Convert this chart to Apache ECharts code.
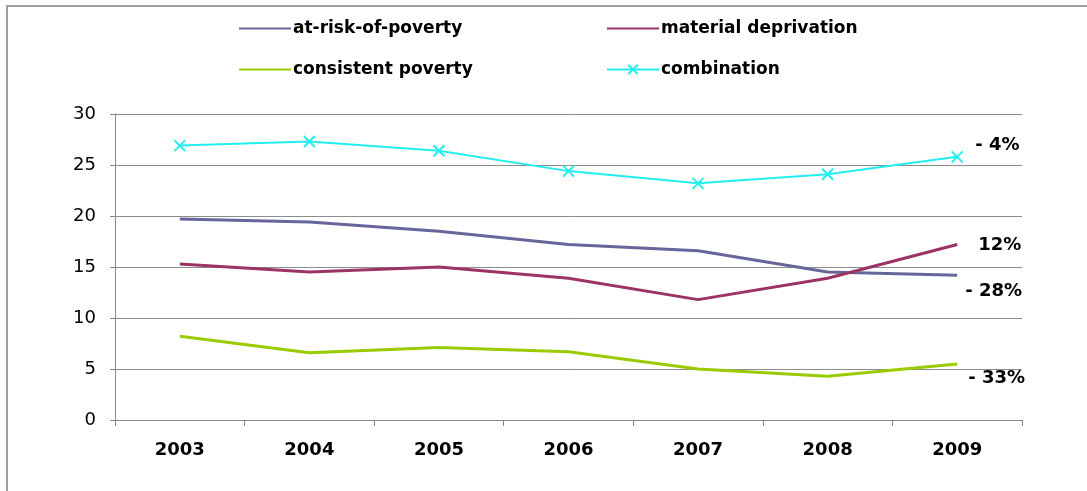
<!DOCTYPE html>
<html><head><meta charset="utf-8">
<script src="https://cdn.jsdelivr.net/npm/echarts@6/dist/echarts.min.js"></script>
<style>html,body{margin:0;padding:0;background:#fff}#c{width:1087px;height:491px}</style>
</head><body><div id="c"></div>
<script>
const years = ['2003','2004','2005','2006','2007','2008','2009'];
const atRisk = [19.7, 19.4, 18.5, 17.2, 16.6, 14.5, 14.2];
const materialDeprivation = [15.3, 14.5, 15.0, 13.9, 11.8, 13.9, 17.2];
const consistentPoverty = [8.2, 6.6, 7.1, 6.7, 5.0, 4.3, 5.5];
const combination = [26.9, 27.3, 26.4, 24.4, 23.2, 24.1, 25.8];
const changeLabels = {atRisk: '- 28%', material: '12%', consistent: '- 33%', combination: '- 4%'};
const yTicks = [0, 5, 10, 15, 20, 25, 30];

const font = '"DejaVu Sans", Arial, sans-serif';
const chart = echarts.init(document.getElementById('c'));
function endLbl(text, off) {
  return {show: true, formatter: text, offset: off, color: '#000', fontFamily: font, fontWeight: 'bold', fontSize: 18, distance: 0};
}
function legend(name, left, top, hideSym) {
  const l = {data: [name], left: left, top: top, itemWidth: 52, itemHeight: 12, itemGap: 0,
    textStyle: {fontFamily: font, fontWeight: 'bold', fontSize: 17, color: '#000', padding: [0,0,0,-3]}, padding: 0};
  if (hideSym) l.itemStyle = {opacity: 0};
  return l;
}
chart.setOption({
  animation: false,
  backgroundColor: '#fff',
  graphic: [{type: 'rect', shape: {x: 7, y: 6, width: 1100, height: 520}, style: {fill: 'none', stroke: '#a0a0a0', lineWidth: 2}, silent: true}],
  legend: [
    legend('at-risk-of-poverty', 238, 20, true),
    legend('material deprivation', 606, 20, true),
    legend('consistent poverty', 238, 61, true),
    legend('combination', 606, 61, false)
  ],
  grid: {left: 115, right: 65, top: 114, bottom: 71},
  xAxis: {type: 'category', data: years, boundaryGap: true,
    axisLine: {lineStyle: {color: '#888', width: 1}},
    axisTick: {show: true, length: 6, lineStyle: {color: '#888'}},
    axisLabel: {fontFamily: font, fontWeight: 'bold', fontSize: 18, color: '#000', margin: 21}},
  yAxis: {type: 'value', min: 0, max: 30, interval: 5,
    axisLine: {show: true, lineStyle: {color: '#888'}},
    axisTick: {show: true, length: 5, lineStyle: {color: '#888'}},
    splitLine: {lineStyle: {color: '#8c8c8c', width: 1}},
    axisLabel: {fontFamily: font, fontSize: 18, color: '#000', margin: 19}},
  series: [
    {name: 'at-risk-of-poverty', type: 'line', data: atRisk, symbol: 'none', lineStyle: {color: '#66669a', width: 3}, itemStyle: {color: '#66669a'},
      endLabel: endLbl(changeLabels.atRisk, [8, 16])},
    {name: 'material deprivation', type: 'line', data: materialDeprivation, symbol: 'none', lineStyle: {color: '#9b3365', width: 3}, itemStyle: {color: '#9b3365'},
      endLabel: endLbl(changeLabels.material, [21, 1])},
    {name: 'consistent poverty', type: 'line', data: consistentPoverty, symbol: 'none', lineStyle: {color: '#99cc00', width: 3}, itemStyle: {color: '#99cc00'},
      endLabel: endLbl(changeLabels.consistent, [11, 14])},
    {name: 'combination', type: 'line', data: combination, symbol: 'path://M0,0L10,10M10,0L0,10', symbolSize: 11, showSymbol: true,
      lineStyle: {color: '#22eeee', width: 2}, itemStyle: {color: 'none', borderColor: '#22eeee', borderWidth: 2},
      endLabel: endLbl(changeLabels.combination, [18, -12])}
  ]
});
</script></body></html>
